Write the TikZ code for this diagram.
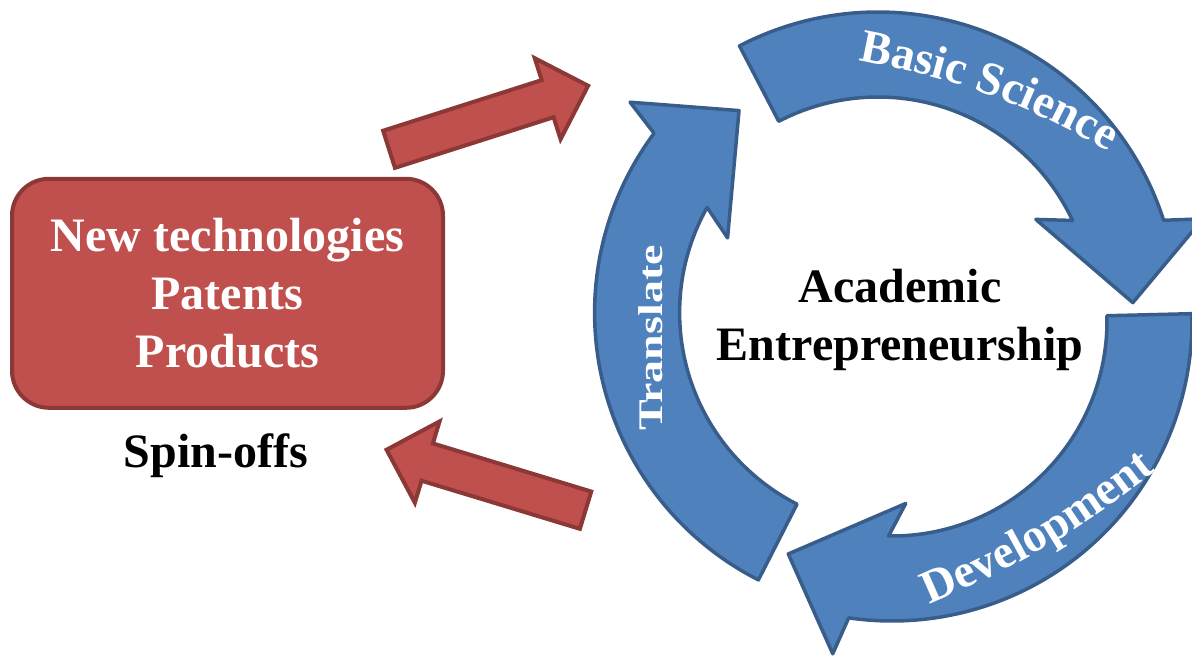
\documentclass[tikz,border=0pt]{standalone}
\usepackage{fontspec}
\setmainfont{Liberation Serif}
\usepackage{xcolor}
\usetikzlibrary{shapes.arrows,decorations.text}
\definecolor{cycleblue}{HTML}{4F81BD}
\definecolor{cycleedge}{HTML}{385D8A}
\definecolor{spinred}{HTML}{C0504D}
\definecolor{spinedge}{HTML}{8C3836}
\newcommand\bigfont{\bfseries\fontsize{48}{58}\selectfont}
\newcommand\ringfont{\bfseries\fontsize{47}{47}\selectfont}
% #1 -- центр дуги, #2 -- угол хвоста
\newcommand\cyclearrow[2]{%
  \draw[ringarrow, shift={#1}]
    (#2:300) arc[start angle=#2, end angle=#2-99.7, radius=300] --
    ({#2-101.5}:338) --
    ({#2-115.4}:255) --
    ({#2-87.1}:183) --
    ({#2-92.3}:215) arc[start angle=#2-92.3, end angle=#2, radius=215] -- cycle;}

\begin{document}
\begin{tikzpicture}[x=1pt, y=1pt,
    ringarrow/.style={fill=cycleblue, draw=cycleedge, line width=3.5pt, line join=round},
    spinarrow/.style={single arrow, fill=spinred, draw=spinedge, line width=4pt,
      inner sep=17.5pt, single arrow head extend=23pt},
    ringtext/.style={decorate, decoration={text along path, text align=center,
      text color=white, text={|\ringfont|#1}}}]
    \useasboundingbox (0,0) rectangle (1192,659);

    % Цикл
    \cyclearrow{(878,347)}{117.5}
    \cyclearrow{(892,338)}{1.4}
    \cyclearrow{(894.6,346.4)}{243}

    % Центр
    \node[font=\bigfont, align=center, inner sep=0pt] (ae) at (900,339)
        {Academic\\Entrepreneurship};

    % Подписи на кольце
    \coordinate (bsA) at (841.5,602);
    \coordinate (bsB) at (1123.5,499);
    \path[ringtext={Basic Science}] (bsA) to[bend left=10] (bsB);
    \coordinate (dvA) at (912,47);
    \coordinate (dvB) at (1171,200);
    \path[ringtext={Development}] (dvA) to[bend right=8] (dvB);
    \node[rotate=90, text=white, font=\bfseries\fontsize{46}{46}\selectfont,
        inner sep=0pt] (tr) at (651,321) {\scalebox{1}[0.75]{Translate}};

    % Блок слева
    \node[fill=spinred, draw=spinedge, line width=4pt, rounded corners=37pt,
        minimum width=431pt, minimum height=229pt, inner sep=0pt,
        text=white, font=\bigfont, align=center] (box) at (227.5,365.7)
        {New technologies\\Patents\\Products};
    \node[font=\bigfont, anchor=base] (spin) at (216,191) {Spin-offs};

    % Стрелки
    \node[spinarrow, minimum height=209pt, rotate=17.7] (out) at (479.3,538.5) {};
    \node[spinarrow, minimum height=208pt, rotate=163.1] (back) at (495.4,176.2) {};
\end{tikzpicture}
\end{document}
